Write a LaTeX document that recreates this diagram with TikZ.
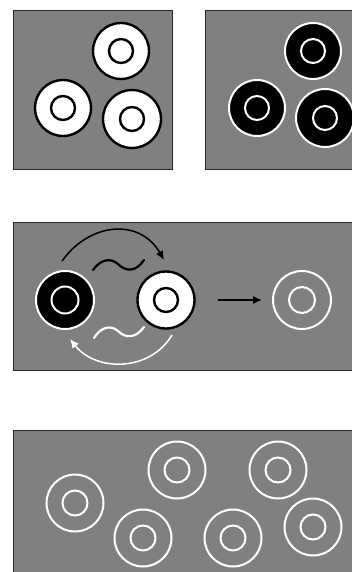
\documentclass[tikz,border=0pt]{standalone}
\usetikzlibrary{arrows.meta,calc}
\definecolor{panelgray}{gray}{0.5}
\tikzset{
  panel/.style={fill=panelgray, draw=black!85, line width=1pt},
  whitedisk/.style={circle, fill=white, draw=black, line width=2.4pt, minimum size=56pt, inner sep=0pt},
  whiteinner/.style={circle, draw=black, line width=2.4pt, minimum size=24pt, inner sep=0pt},
  blackdisk/.style={circle, fill=black, draw=white, line width=2pt, minimum size=56pt, inner sep=0pt},
  blackinner/.style={circle, draw=white, line width=2pt, minimum size=24pt, inner sep=0pt},
  ring/.style={circle, draw=white, line width=2pt, minimum size=57pt, inner sep=0pt},
  ringinner/.style={circle, draw=white, line width=2pt, minimum size=25pt, inner sep=0pt},
  blkarrow/.style={draw=black, line width=1.5pt, -{Latex[length=9pt,width=8pt]}},
  whtarrow/.style={draw=white, line width=1.5pt, -{Latex[length=9pt,width=8pt]}},
  wave/.style={line width=2.2pt, line cap=round}
}
\begin{document}
\begin{tikzpicture}[x=1pt,y=-1pt]
\useasboundingbox (0,0) rectangle (351,572);
% panels
\draw[panel] (13,11) rectangle (172,169);
\draw[panel] (205,11) rectangle (353,169);
\draw[panel] (13,222) rectangle (353,370);
\draw[panel] (13,430) rectangle (353,574);
% panel 1: white disks
\node[whitedisk] (a1) at (121,51) {};
\node[whiteinner] (a1i) at (a1.center) {};
\node[whitedisk] (a2) at (63,108) {};
\node[whiteinner] (a2i) at (a2.center) {};
\node[whitedisk, minimum size=58pt] (a3) at (132,119) {};
\node[whiteinner] (a3i) at (a3.center) {};
% panel 2: black disks
\node[blackdisk] (b1) at (313,51) {};
\node[blackinner] (b1i) at (b1.center) {};
\node[blackdisk] (b2) at (257,108) {};
\node[blackinner] (b2i) at (b2.center) {};
\node[blackdisk, minimum size=58pt] (b3) at (325,118) {};
\node[blackinner] (b3i) at (b3.center) {};
% panel 3
\node[blackdisk, minimum size=58pt] (c1) at (65,300) {};
\node[blackinner, minimum size=27pt] (c1i) at (c1.center) {};
\node[whitedisk, minimum size=57pt] (c2) at (166,300) {};
\node[whiteinner] (c2i) at (c2.center) {};
\node[ring, minimum size=58pt] (c3) at (302,300) {};
\node[ringinner, minimum size=26pt] (c3i) at (c3.center) {};
\coordinate (h1) at ($(c2.east)+(22,0)$);
\coordinate (h2) at ($(c3.west)+(-10,0)$);
\draw[blkarrow] (h1) -- (h2);
\coordinate (ba1) at (62,261);
\coordinate (ba2) at (164,260);
\draw[blkarrow] (ba1) .. controls (90,222) and (140,218) .. (ba2);
\coordinate (bw1) at (93,270);
\coordinate (bw2) at (144,260);
\draw[wave, black] (bw1) .. controls (100,260) and (110,257) .. (118,264) .. controls (126,272) and (136,272) .. (bw2);
\coordinate (wa1) at (172,335);
\coordinate (wa2) at (70,339);
\draw[whtarrow] (wa1) .. controls (150,372) and (96,372) .. (wa2);
\coordinate (ww1) at (94,338);
\coordinate (ww2) at (144,327);
\draw[wave, white] (ww1) .. controls (100,328) and (110,324) .. (118,331) .. controls (126,339) and (136,338) .. (ww2);
% panel 4
\foreach \n/\x/\y in {d1/75/503, d2/177/470, d3/278/470, d4/143/538, d5/233/538, d6/313/527}{
  \node[ring] (\n) at (\x,\y) {};
  \node[ringinner] (\n i) at (\n.center) {};
}
\end{tikzpicture}
\end{document}
